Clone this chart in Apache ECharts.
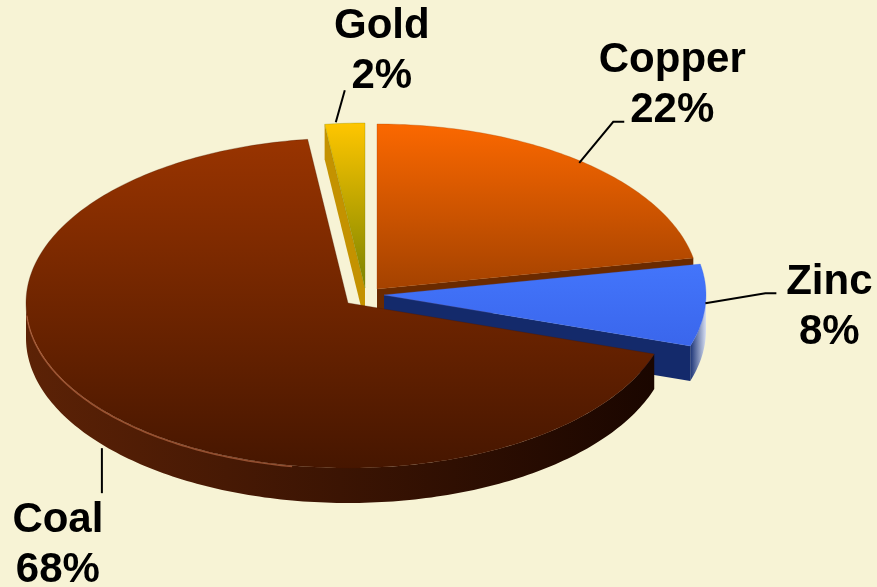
<!DOCTYPE html>
<html><head><meta charset="utf-8">
<script src="https://cdn.jsdelivr.net/npm/echarts@6/dist/echarts.min.js"></script>
<style>html,body{margin:0;padding:0;background:#F7F3D5;}#c{width:877px;height:587px;}</style>
</head><body><div id="c"></div>
<script>
// ---- data ----
const categories = ['Copper', 'Zinc', 'Coal', 'Gold'];
const values = [22, 8, 68, 2];

// ---- styles ----
const topColors = [['#FB6800', '#A44200'], ['#4375FB', '#3A66EC'], ['#993400', '#461600'], ['#FFC600', '#7C8400']];
const faceColors = ['#6A2A00', '#142A6B', '#3A1200', '#C49200'];
const wallColors = [['#7a3000', '#3a1200'], ['#1a3275', '#d6def2'], ['#5C2206', '#1A0600'], ['#a07800', '#604800']];
const rimColors = [null, null, 'rgba(215,125,85,0.55)', null];
const explodeShift = [[8, -4], [15, 2], [-21, 10], [-4, -5]];
const geom = { cx: 369, cy: 293, rx: 322, ry: 165, depth: 35 };
const labelCfg = [
  { bottom: false, leader: [[-3, 1], [31, -40], [42, -40]], text: [90, -76] },
  { bottom: false, leader: [[0, -2], [60, -12], [71, -12]], text: [124, 2] },
  { bottom: true, leader: [[2, 5], [2, 50]], text: [-42, 102] },
  { bottom: false, leader: [[-9, -1], [0, -33]], text: [37, -72] }
];

const total = values.reduce((a, b) => a + b, 0);

function grad(c, horiz) {
  return new echarts.graphic.LinearGradient(0, 0, horiz ? 1 : 0, horiz ? 0 : 1, [
    { offset: 0, color: c[0] }, { offset: 1, color: c[1] }
  ]);
}

function renderItem(params, api) {
  const i = params.dataIndex;
  let before = 0;
  for (let k = 0; k < i; k++) before += values[k];
  const v = api.value(1);
  const a0 = before / total * 2 * Math.PI;
  const a1 = (before + v) / total * 2 * Math.PI;
  const mid = (a0 + a1) / 2;
  const cx = geom.cx + explodeShift[i][0];
  const cy = geom.cy + explodeShift[i][1];
  const D = geom.depth;
  const P = (t, z) => [cx + geom.rx * Math.sin(t), cy - geom.ry * Math.cos(t) + (z || 0)];
  const arc = (t0, t1, z) => {
    const n = Math.max(2, Math.ceil(Math.abs(t1 - t0) / (Math.PI / 180)));
    const pts = [];
    for (let k = 0; k <= n; k++) pts.push(P(t0 + (t1 - t0) * k / n, z));
    return pts;
  };
  const children = [];
  // top face
  children.push({
    type: 'polygon', z2: 100,
    shape: { points: [[cx, cy]].concat(arc(a0, a1, 0)) },
    style: { fill: grad(topColors[i]), stroke: topColors[i][1], lineWidth: 0.3 }
  });
  // outer wall (front half only)
  const f0 = Math.max(a0, Math.PI / 2), f1 = Math.min(a1, 1.5 * Math.PI);
  if (f1 > f0) {
    const pts = arc(f0, f1, 0).concat(arc(f1, f0, D));
    const cyw = pts.reduce((s, p) => s + p[1], 0) / pts.length;
    children.push({
      type: 'polygon', z2: cyw / 10,
      shape: { points: pts },
      style: { fill: grad(wallColors[i], true) }
    });
    if (rimColors[i]) {
      const r0 = Math.max(f0, 190 / 180 * Math.PI), r1 = Math.min(f1, 266 / 180 * Math.PI);
      if (r1 > r0) {
        children.push({
          type: 'polyline', z2: 150,
          shape: { points: arc(r0, r1, 1) },
          style: { stroke: rimColors[i], lineWidth: 1.5, fill: null }
        });
      }
    }
  }
  // start cut face
  if (Math.sin(a0) < -1e-6) {
    const p = P(a0, 0), q = P(a0, D);
    children.push({
      type: 'polygon', z2: (cy + p[1]) / 20,
      shape: { points: [[cx, cy], p, q, [cx, cy + D]] },
      style: { fill: faceColors[i] }
    });
  }
  // end cut face
  if (Math.sin(a1) > 1e-6) {
    const p = P(a1, 0), q = P(a1, D);
    children.push({
      type: 'polygon', z2: (cy + p[1]) / 20,
      shape: { points: [[cx, cy], p, q, [cx, cy + D]] },
      style: { fill: faceColors[i] }
    });
  }
  // label + leader line
  const cfg = labelCfg[i];
  const anc = P(mid, cfg.bottom ? D : 0);
  children.push({
    type: 'polyline', z2: 200,
    shape: { points: cfg.leader.map(d => [anc[0] + d[0], anc[1] + d[1]]) },
    style: { stroke: '#000', lineWidth: 2, fill: null }
  });
  const pct = Math.round(v / total * 100);
  children.push({
    type: 'text', z2: 200,
    x: anc[0] + cfg.text[0], y: anc[1] + cfg.text[1],
    style: {
      text: categories[i] + '\n' + pct + '%',
      fill: '#000',
      fontSize: 42, fontWeight: 'bold', fontFamily: '"Liberation Sans", Arial, sans-serif',
      align: 'center', verticalAlign: 'middle', lineHeight: 50
    }
  });
  return { type: 'group', children: children };
}

const chart = echarts.init(document.getElementById('c'), null, { renderer: 'canvas' });
chart.setOption({
  backgroundColor: '#F7F3D5',
  animation: false,
  series: [{
    type: 'custom',
    coordinateSystem: 'none',
    silent: true,
    renderItem: renderItem,
    data: values.map((v, i) => ({ name: categories[i], value: [i, v] }))
  }]
});
</script>
</body></html>
